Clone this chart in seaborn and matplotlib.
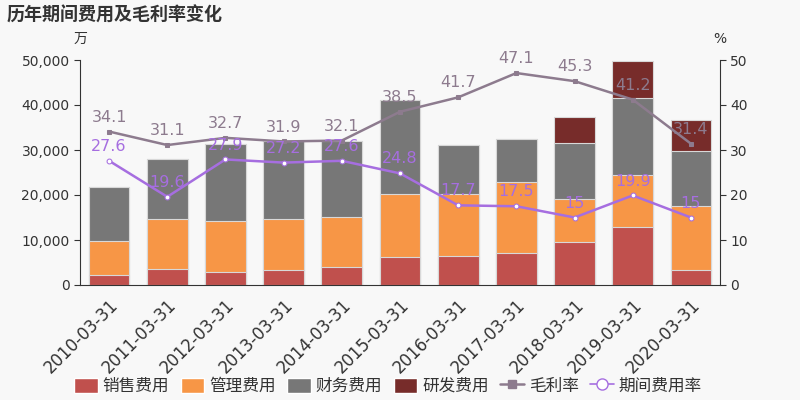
import numpy as np
import pandas as pd
import matplotlib
matplotlib.use("Agg")
import matplotlib.pyplot as plt
import seaborn as sns
from matplotlib.patches import Patch
from matplotlib.lines import Line2D

dates = ["2010-03-31", "2011-03-31", "2012-03-31", "2013-03-31", "2014-03-31", "2015-03-31",
         "2016-03-31", "2017-03-31", "2018-03-31", "2019-03-31", "2020-03-31"]
sales = [2200, 3600, 3000, 3300, 3900, 6200, 6400, 7100, 9600, 12800, 3300]
admin = [7500, 11100, 11200, 11400, 11300, 14000, 13800, 15800, 9600, 11600, 14300]
finance = [12000, 13400, 17200, 17200, 16900, 20900, 11000, 9600, 12300, 17200, 12200]
rnd = [0, 0, 0, 0, 0, 0, 0, 0, 5800, 8200, 6900]
gross_margin = [34.1, 31.1, 32.7, 31.9, 32.1, 38.5, 41.7, 47.1, 45.3, 41.2, 31.4]
expense_rate = [27.6, 19.6, 27.9, 27.2, 27.6, 24.8, 17.7, 17.5, 15, 19.9, 15]

C_SALES = "#c0504d"
C_ADMIN = "#f79646"
C_FIN = "#777777"
C_RND = "#772c2a"
C_GM = "#8d7b8e"
C_ER = "#a66ee0"
BG = "#f8f8f8"

sns.set_style("white")
plt.rcParams['font.family'] = ['DejaVu Sans', 'Noto Sans CJK SC']

df = pd.DataFrame({"date": dates, "sales": sales, "admin": admin,
                   "finance": finance, "rnd": rnd})
df["s1"] = df["sales"]
df["s2"] = df["s1"] + df["admin"]
df["s3"] = df["s2"] + df["finance"]
df["s4"] = df["s3"] + df["rnd"]

fig = plt.figure(figsize=(8, 4), dpi=100, facecolor=BG)
ax = fig.add_axes([0.1, 0.2875, 0.8, 0.5625])
ax.set_facecolor(BG)

# stacked bars: draw cumulative totals from the top down
for col, c in [("s4", C_RND), ("s3", C_FIN), ("s2", C_ADMIN), ("s1", C_SALES)]:
    sns.barplot(data=df, x="date", y=col, color=c, width=0.7, ax=ax,
                edgecolor="#d8d8d8", linewidth=0.8, saturation=1)

ax.set_ylim(0, 50000)
ax.set_xlim(-0.5, 10.5)
ax.set_yticks(np.arange(0, 50001, 10000))
ax.set_yticklabels([f"{v:,}" for v in range(0, 50001, 10000)], fontsize=10, color="#333333")
ax.set_xlabel("")
ax.set_ylabel("")
ax.set_xticks(range(len(dates)))
ax.set_xticklabels(dates, rotation=45, ha="right", rotation_mode="anchor",
                   fontsize=12, color="#333333")
ax.tick_params(axis="x", length=0, pad=8)
ax.set_xticks(np.arange(-0.5, 11, 1), minor=True)
ax.tick_params(axis="x", which="minor", length=5, color="#333333")
ax.tick_params(axis="y", length=4, color="#333333")
for s in ["top", "right"]:
    ax.spines[s].set_visible(False)
ax.spines["left"].set_color("#333333")
ax.spines["bottom"].set_color("#333333")

ax2 = ax.twinx()
x = np.arange(len(dates))
sns.lineplot(x=x, y=gross_margin, ax=ax2, color=C_GM, linewidth=1.8,
             marker="s", markersize=3.5, markeredgecolor=C_GM)
sns.lineplot(x=x, y=expense_rate, ax=ax2, color=C_ER, linewidth=1.8,
             marker="o", markersize=3.5, markerfacecolor="white", markeredgecolor=C_ER)
ax2.set_ylim(0, 50)
ax2.set_yticks(range(0, 51, 10))
ax2.set_yticklabels([str(v) for v in range(0, 51, 10)], fontsize=10, color="#333333")
ax2.tick_params(axis="y", length=4, color="#333333")
for s in ["top", "left", "bottom"]:
    ax2.spines[s].set_visible(False)
ax2.spines["right"].set_color("#333333")

for i, v in enumerate(gross_margin):
    ax2.annotate(f"{v:g}", (i, v), xytext=(0, 5), textcoords="offset points",
                 ha="center", va="bottom", fontsize=11.5, color=C_GM)
for i, v in enumerate(expense_rate):
    ax2.annotate(f"{v:g}", (i, v), xytext=(0, 5), textcoords="offset points",
                 ha="center", va="bottom", fontsize=11.5, color=C_ER)

fig.text(0.008, 0.962, "历年期间费用及毛利率变化", fontsize=13, fontweight="bold",
         color="#333333", va="center", ha="left")
fig.text(0.1, 0.902, "万", fontsize=10, color="#333333", ha="center", va="center")
fig.text(0.9, 0.902, "%", fontsize=10, color="#333333", ha="center", va="center")

handles = [Patch(facecolor=C_SALES, label="销售费用"),
           Patch(facecolor=C_ADMIN, label="管理费用"),
           Patch(facecolor=C_FIN, label="财务费用"),
           Patch(facecolor=C_RND, label="研发费用"),
           Line2D([0], [0], color=C_GM, lw=1.8, marker="s", markersize=6, label="毛利率"),
           Line2D([0], [0], color=C_ER, lw=1.2, marker="o", markersize=8,
                  markerfacecolor="white", label="期间费用率")]
fig.legend(handles=handles, loc="center", bbox_to_anchor=(0.485, 0.035), ncol=6,
           frameon=False, fontsize=12, handlelength=1.4, handleheight=1.0,
           handletextpad=0.3, columnspacing=0.7, labelcolor="#333333")

fig.savefig("out.png", dpi=100, facecolor=BG)
